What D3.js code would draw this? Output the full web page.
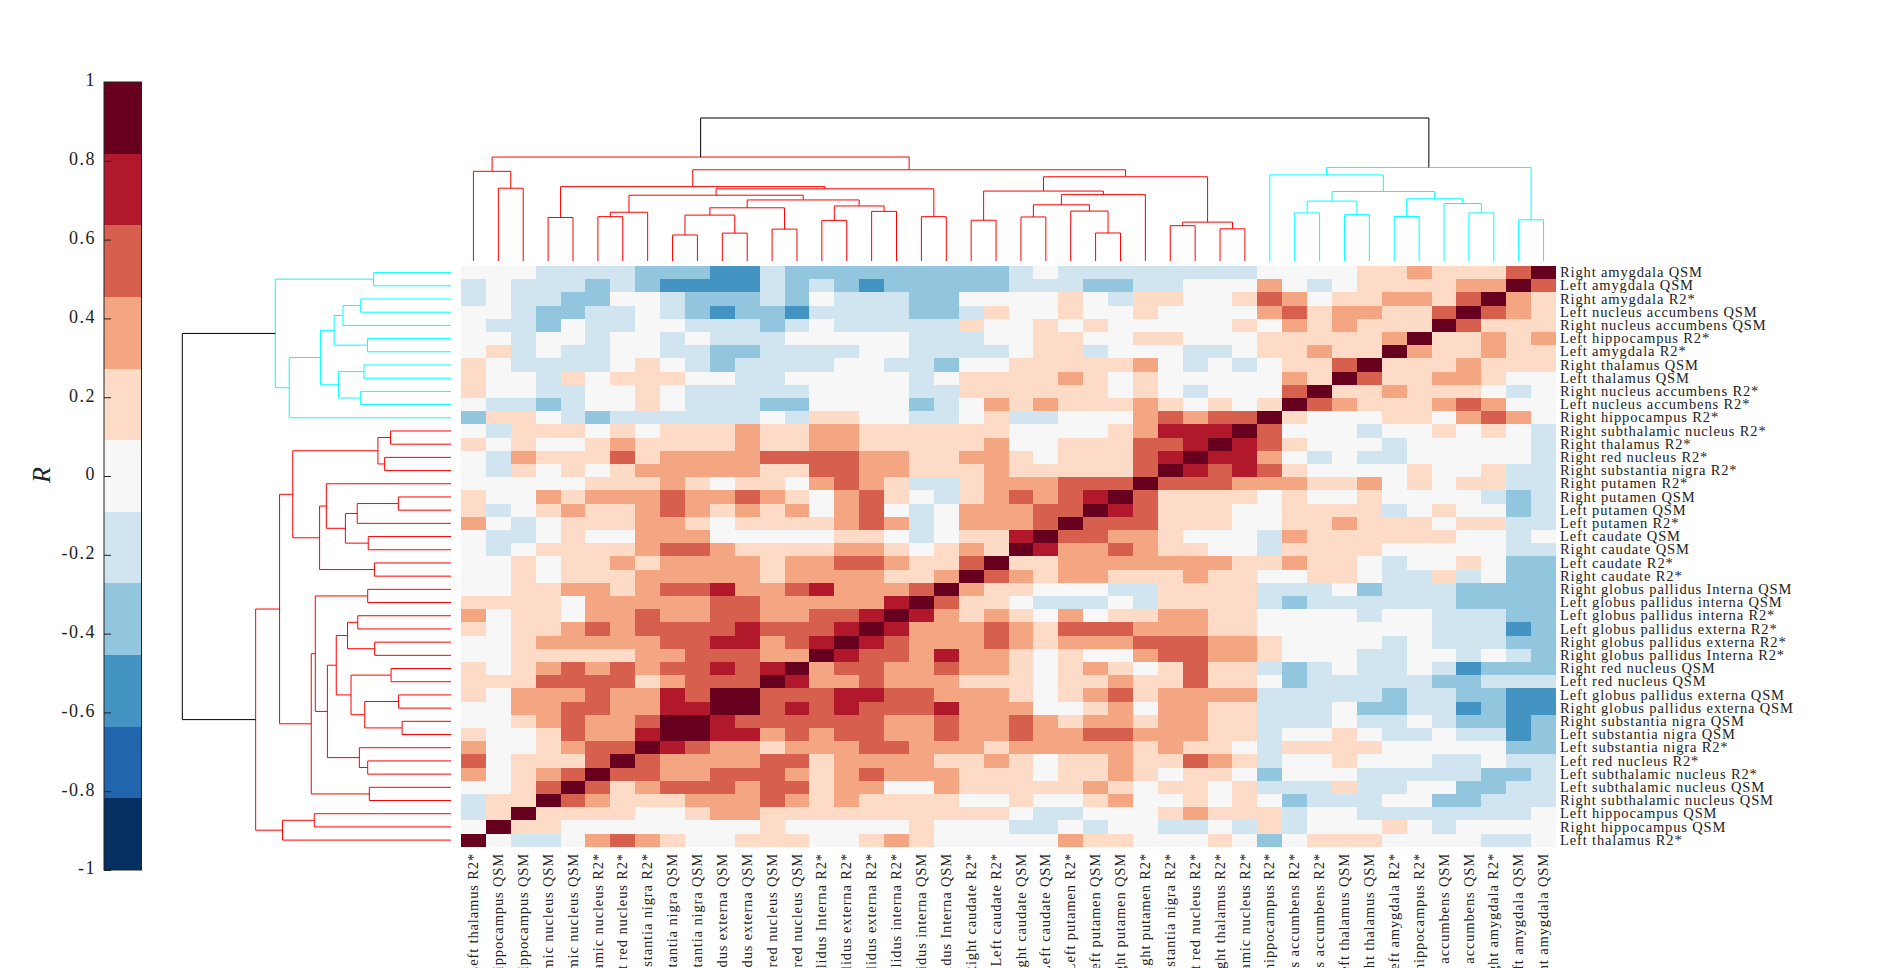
<!DOCTYPE html>
<html>
<head>
<meta charset="utf-8">
<script src="https://cdn.jsdelivr.net/npm/d3@7"></script>
<style>
html,body{margin:0;padding:0;background:#fff;overflow:hidden;}
text{font-family:"Liberation Serif",serif;fill:#222;}
</style>
</head>
<body>
<div id="graph"></div>
<script>
//labels, top to bottom on the right side
var rowLabels=["Right amygdala QSM","Left amygdala QSM","Right amygdala R2*","Left nucleus accumbens QSM","Right nucleus accumbens QSM","Left hippocampus R2*","Left amygdala R2*","Right thalamus QSM","Left thalamus QSM","Right nucleus accumbens R2*","Left nucleus accumbens R2*","Right hippocampus R2*","Right subthalamic nucleus R2*","Right thalamus R2*","Right red nucleus R2*","Right substantia nigra R2*","Right putamen R2*","Right putamen QSM","Left putamen QSM","Left putamen R2*","Left caudate QSM","Right caudate QSM","Left caudate R2*","Right caudate R2*","Right globus pallidus Interna QSM","Left globus pallidus interna QSM","Left globus pallidus interna R2*","Left globus pallidus externa R2*","Right globus pallidus externa R2*","Right globus pallidus Interna R2*","Right red nucleus QSM","Left red nucleus QSM","Left globus pallidus externa QSM","Right globus pallidus externa QSM","Right substantia nigra QSM","Left substantia nigra QSM","Left substantia nigra R2*","Left red nucleus R2*","Left subthalamic nucleus R2*","Left subthalamic nucleus QSM","Right subthalamic nucleus QSM","Left hippocampus QSM","Right hippocampus QSM","Left thalamus R2*"];
var colLabels=rowLabels.slice().reverse();

//R per cell, one line per row
var rValues=[
[0,0,0,-.18,-.18,-.18,-.18,-.36,-.36,-.36,-.55,-.55,-.18,-.36,-.36,-.36,-.36,-.36,-.36,-.36,-.36,-.36,-.18,0,-.18,-.18,-.18,-.18,-.18,-.18,-.18,-.18,0,0,0,0,.18,.18,.36,.18,.18,.18,.55,1],
[-.18,0,-.18,-.18,-.18,-.36,-.18,-.36,-.55,-.55,-.55,-.55,-.18,-.36,-.18,-.36,-.55,-.36,-.36,-.36,-.36,-.36,-.18,-.18,-.18,-.36,-.36,-.18,-.18,0,0,0,.36,0,-.18,0,.18,.18,.18,.18,.36,.36,1,.55],
[-.18,0,-.18,-.18,-.36,-.36,0,0,-.18,-.36,-.36,-.36,-.18,-.36,0,-.18,-.18,-.18,-.36,-.36,0,0,0,0,.18,0,-.18,.18,.18,0,0,.18,.55,.36,0,.18,.18,.36,.36,.18,.55,1,.36,.18],
[0,0,-.18,-.36,-.36,-.18,-.18,0,-.18,-.36,-.55,-.36,-.36,-.55,-.18,-.18,-.18,-.18,-.36,-.36,-.18,.18,0,0,.18,0,0,.18,0,0,0,0,.36,.55,.18,.36,.36,.18,.18,.55,1,.55,.36,.18],
[0,-.18,-.18,-.36,0,-.18,-.18,0,0,-.18,-.18,-.18,-.36,-.18,0,-.18,-.18,-.18,-.18,-.18,.18,0,0,.18,0,.18,0,0,0,0,0,.18,0,.36,.18,.36,.18,.18,.18,1,.55,.18,.18,.18],
[0,0,-.18,0,0,-.18,0,0,-.18,0,-.18,-.18,-.18,0,0,0,0,0,-.18,-.18,-.18,0,0,.18,.18,0,0,.18,.18,0,0,0,.18,.18,.18,.18,.18,.36,1,.18,.18,.36,.18,.36],
[0,.18,-.18,0,-.18,-.18,0,0,-.18,-.18,-.36,-.36,-.18,-.18,-.18,-.18,0,0,-.18,-.18,-.18,-.18,0,.18,.18,-.18,0,0,0,-.18,-.18,0,.18,.18,.36,.18,.18,1,.36,.18,.18,.36,.18,.18],
[.18,0,-.18,-.18,-.18,-.18,0,.18,0,-.18,-.36,-.18,-.18,-.18,-.18,0,0,-.18,-.18,-.36,0,0,.18,.18,.18,.18,.18,.36,0,-.18,0,-.18,0,.18,.18,.55,1,.18,.18,.18,.36,.18,.18,.18],
[.18,0,0,-.18,.18,0,.18,.18,.18,0,0,-.18,-.18,0,0,0,0,0,-.18,0,.18,.18,.18,.18,.36,.18,0,.18,0,0,0,0,0,.36,.18,1,.55,.18,.18,.36,.36,.18,0,0],
[.18,0,0,-.18,-.18,0,0,.18,0,-.18,-.18,-.18,-.18,-.18,0,0,0,0,-.18,-.18,.18,.18,.18,.18,.18,.18,0,.18,0,-.18,0,0,0,.55,1,.18,.18,.36,.18,.18,.18,0,-.18,0],
[0,-.18,-.18,-.36,-.18,0,0,.18,0,-.18,-.18,-.18,-.36,-.36,0,0,0,0,-.36,-.18,0,.36,.18,.36,.18,.18,.18,.36,.18,0,.18,0,.18,1,.55,.36,.18,.18,.18,.36,.55,.36,0,0],
[-.36,.18,.18,0,-.18,-.36,-.18,-.18,-.18,-.18,-.18,-.18,0,-.18,.18,.18,0,0,-.18,-.18,0,.18,-.18,-.18,0,0,0,.36,.55,.36,.55,.55,1,.18,0,0,0,.18,.18,0,.36,.55,.36,0],
[0,-.18,.18,.18,.18,0,.18,0,.18,.18,.18,.36,.18,.18,.36,.36,.18,.18,.18,.18,.18,.18,0,0,0,0,.18,.36,.73,.73,.73,1,.55,0,0,0,-.18,0,0,.18,0,.18,0,-.18],
[.18,0,.18,0,0,.18,.36,.18,.18,.18,.18,.36,.18,.18,.36,.36,.18,.18,.18,.18,.18,.36,0,0,.18,.18,.18,.55,.55,.73,1,.73,.55,.18,0,0,0,-.18,0,0,0,0,0,-.18],
[0,-.18,.36,.18,.18,.18,.55,.18,.36,.36,.36,.36,.55,.55,.55,.55,.36,.36,.18,.18,.36,.36,.18,0,.18,.18,.18,.55,.73,1,.73,.73,.36,0,-.18,0,-.18,-.18,0,0,0,0,0,-.18],
[0,-.18,.18,0,.18,0,.18,.36,.36,.36,.36,.36,.18,.18,.55,.55,.36,.36,.18,.18,.18,.36,.18,.18,.18,.18,.18,.55,1,.73,.55,.73,.55,.18,0,0,0,0,.18,0,0,.18,-.18,-.18],
[0,0,0,0,0,.18,.18,.18,.36,.18,0,.18,.18,0,.36,.55,.36,.18,-.18,-.18,.18,.36,.36,.36,.55,.55,.55,1,.55,.55,.55,.36,.36,.36,.18,.18,.36,0,.18,0,.18,.18,-.18,-.18],
[.18,0,0,.36,.18,.36,.36,.36,.55,.36,.36,.55,.36,.18,0,.36,.55,.18,0,-.18,.18,.36,.55,.36,.55,.73,1,.55,.18,.18,.18,.18,0,.18,0,0,.18,0,0,0,0,-.18,-.36,-.18],
[.18,-.18,0,.18,.36,.18,.18,.36,.55,.36,.18,.36,.18,.36,0,.36,.55,0,-.18,0,.36,.36,.36,.55,.55,1,.73,.55,.18,.18,.18,0,0,.18,.18,.18,.18,-.18,0,.18,0,0,-.36,-.18],
[.36,0,-.18,0,.18,.18,.18,.36,.36,.18,0,.18,.18,.18,.18,.36,.55,.36,-.18,0,.36,.36,.36,.55,1,.55,.55,.55,.18,.18,.18,0,0,.18,.18,.36,.18,.18,.18,0,.18,.18,-.18,-.18],
[0,-.18,-.18,0,.18,0,0,.36,.36,.36,0,0,0,0,0,.18,.18,0,-.18,0,.18,.18,.73,1,.55,.55,.36,.36,.18,0,0,0,-.18,.36,.18,.18,.18,.18,.18,.18,0,0,-.18,0],
[0,-.18,0,.18,.18,.18,.18,.36,.55,.55,.36,.18,.18,.18,.18,.36,.36,.18,0,.18,.36,.18,1,.73,.36,.36,.55,.36,.18,.18,0,0,-.18,.18,.18,.18,.18,0,0,0,0,0,-.18,-.18],
[0,0,.18,0,.18,.18,.36,.18,.36,.36,.36,.36,.18,.36,.36,.55,.55,.36,.18,.18,.55,1,.18,.18,.36,.36,.36,.36,.36,.36,.36,.18,.18,.36,.18,.18,0,-.18,0,0,.18,0,-.36,-.36],
[0,0,.18,0,.18,.18,.18,.36,.36,.36,.36,.36,.18,.36,.36,.36,.36,.18,.18,.36,1,.55,.36,.18,.36,.36,.18,.18,.18,.36,.18,.18,0,0,.18,.18,0,-.18,-.18,.18,-.18,0,-.36,-.36],
[0,0,.18,.18,.36,.36,.18,.36,.55,.55,.73,.36,.36,.55,.73,.36,.36,.36,.55,1,.36,.18,.18,0,0,0,-.18,-.18,.18,.18,.18,.18,-.18,-.18,-.18,0,-.36,-.18,-.18,-.18,-.36,-.36,-.36,-.36],
[.18,.18,.18,.18,0,.36,.36,.36,.36,.36,.55,.55,.36,.36,.36,.36,.36,.73,1,.55,.18,.18,0,-.18,-.18,-.18,0,-.18,.18,.18,.18,.18,-.18,-.36,-.18,-.18,-.18,-.18,-.18,-.18,-.36,-.36,-.36,-.36],
[.36,0,.18,.18,0,.36,.36,.55,.36,.36,.55,.55,.36,.36,.55,.55,.73,1,.73,.36,.18,.36,.18,0,.36,0,.18,.18,.36,.36,.18,.18,0,0,0,0,-.18,0,0,-.18,-.18,-.18,-.36,-.36],
[.18,0,.18,.18,.36,.55,.36,.55,.55,.55,.55,.73,.55,.55,.55,.73,1,.73,.36,.36,.36,.55,.36,.18,.55,.55,.55,.36,.36,.36,.18,.18,0,0,0,0,0,0,0,-.18,-.18,-.18,-.55,-.36],
[0,0,.18,.36,.36,.36,.36,.36,.55,.55,.73,.73,.36,.55,.73,1,.73,.55,.36,.36,.36,.55,.36,.18,.36,.36,.36,.55,.55,.55,.36,.36,.18,0,0,0,0,-.18,0,-.18,-.18,-.18,-.36,-.36],
[0,0,.18,.18,.18,.18,.18,.36,.36,.55,.55,.55,.36,.36,1,.73,.55,.55,.36,.73,.36,.36,.18,0,.18,0,0,.36,.55,.55,.36,.36,.18,0,0,0,-.18,-.18,0,0,-.18,0,-.18,-.36],
[.18,0,.18,.36,.55,.36,.55,.36,.55,.55,.73,.55,.73,1,.36,.55,.55,.36,.36,.55,.36,.36,.18,0,.18,.36,.18,0,.18,.55,.18,.18,-.18,-.36,-.18,0,-.18,-.18,0,-.18,-.55,-.36,-.36,-.36],
[.18,.18,.18,.55,.55,.55,.55,.18,.36,.55,.55,.55,1,.73,.36,.36,.55,.36,.36,.36,.18,.18,.18,0,.18,.18,.36,.18,.18,.55,.18,.18,0,-.36,-.18,-.18,-.18,-.18,-.18,-.36,-.36,-.18,-.18,-.18],
[.18,0,.36,.36,.36,.55,.36,.36,.73,.55,1,1,.55,.55,.55,.73,.73,.55,.55,.36,.36,.36,.18,0,.18,.36,.55,.18,.36,.36,.36,.36,-.18,-.18,-.18,-.18,-.18,-.36,-.18,-.18,-.36,-.36,-.55,-.55],
[0,0,.36,.36,.55,.55,.36,.36,.73,.73,1,1,.55,.73,.55,.73,.55,.55,.55,.73,.36,.36,.36,0,0,.18,.36,0,.36,.36,.18,.18,-.18,-.18,-.18,0,-.36,-.36,-.18,-.18,-.55,-.36,-.55,-.55],
[0,0,.18,.36,.55,.36,.36,.55,1,1,.73,.55,.55,.55,.55,.55,.55,.36,.36,.55,.36,.36,.55,.36,.18,.36,.36,.18,.36,.36,.18,.18,-.18,-.18,-.18,0,-.18,-.18,0,-.18,-.36,-.36,-.55,-.36],
[.18,0,0,.18,.55,.36,.36,.73,1,1,.73,.73,.36,.55,.36,.55,.55,.36,.36,.55,.36,.36,.55,.36,.36,.55,.55,.36,.36,.36,.18,.18,-.18,0,0,.18,0,-.18,-.18,0,-.18,-.18,-.55,-.36],
[.36,0,0,.18,.36,.55,.55,1,.73,.55,.36,.36,.18,.36,.36,.36,.55,.55,.36,.36,.36,.18,.36,.36,.36,.36,.36,.18,.36,.18,.18,0,-.18,.18,.18,.18,.18,0,0,0,0,0,-.36,-.36],
[.55,0,.18,.18,.18,.55,1,.55,.36,.36,.36,.36,.55,.55,.18,.36,.36,.36,.36,.18,.18,.36,.18,0,.18,.18,.36,.18,.18,.55,.36,.18,-.18,0,0,.18,0,0,0,-.18,-.18,0,-.18,-.18],
[.36,0,.18,.36,.55,1,.55,.55,.36,.36,.55,.55,.55,.36,.18,.36,.55,.36,.36,.36,.18,.18,.18,0,.18,.18,.36,.18,0,.18,.18,0,-.36,0,0,0,-.18,-.18,-.18,-.18,-.18,-.36,-.36,-.18],
[0,0,.18,.55,1,.55,.18,.36,.55,.55,.55,.36,.55,.55,.18,.36,.36,0,0,.36,.18,.18,.18,.18,.18,.36,.18,0,.18,.18,0,.18,-.18,-.18,-.18,.18,-.18,-.18,0,0,-.36,-.36,-.18,-.18],
[-.18,.18,.18,1,.55,.36,.18,.18,.18,.36,.36,.36,.55,.36,.18,.36,.18,.18,.18,.18,0,0,.18,0,0,.18,.36,0,0,.18,0,.18,0,-.36,-.18,-.18,-.18,0,0,-.36,-.36,-.18,-.18,-.18],
[-.18,.18,1,.18,.18,.18,.18,0,0,.18,.36,.36,.18,.18,.18,.18,.18,.18,.18,.18,.18,.18,0,-.18,-.18,0,0,0,.18,.36,.18,.18,.18,-.18,0,0,-.18,-.18,-.18,-.18,-.18,-.18,-.18,0],
[0,1,.18,.18,0,0,0,0,0,0,0,0,.18,0,0,0,0,0,.18,0,0,0,-.18,-.18,0,-.18,0,0,-.18,-.18,0,-.18,.18,-.18,0,0,0,.18,0,-.18,0,0,0,0],
[1,0,-.18,-.18,0,.36,.55,.36,.18,0,0,.18,.18,.18,0,0,.18,.36,.18,0,0,0,0,0,.36,.18,.18,0,0,0,.18,0,-.36,0,.18,.18,.18,0,0,0,0,-.18,-.18,0]
];

//dendrogram merges as in a linkage table: leaves are columns 0-43, node ids go on from 44
var mergeA=[43,41,45,38,46,36,34,49,48,52,44,31,29,55,26,58,23,59,27,21,62,57,19,17,15,67,13,11,9,71,70,69,6,7,75,66,4,79,65,2,83,82,54];
var mergeB=[42,40,39,37,47,35,33,50,51,32,53,30,28,56,25,24,22,60,61,20,63,64,18,16,14,68,12,10,8,72,73,74,5,76,77,78,3,80,81,1,0,84,85];
var mergeH=[.288,.336,.402,.311,.435,.324,.336,.419,.486,.602,.654,.225,.247,.272,.196,.349,.308,.393,.464,.285,.489,.589,.31,.347,.284,.385,.223,.195,.182,.321,.372,.427,.31,.341,.46,.505,.304,.52,.638,.509,.627,.727,1];

var cbColors=["#053061","#2166ac","#4393c3","#92c5de","#d1e5f0","#f7f7f7","#fddbc7","#f4a582","#d6604d","#b2182b","#67001f"];
var cbTicks=[-1,-0.8,-0.6,-0.4,-0.2,0,0.2,0.4,0.6,0.8,1];

var svg=d3.select("#graph").append("svg")
  .attr("width",1902)
  .attr("height",968)
  .style("display","block");

var color=d3.scaleQuantize().domain([-1,1]).range(cbColors);
var x=d3.scaleBand().domain(colLabels).range([461,1556]);
var y=d3.scaleBand().domain(rowLabels).range([266,846.7]);

//heatmap
var rows=svg.append("g").selectAll("g")
  .data(rValues)
  .enter()
  .append("g")
  .attr("transform",function(d,i){return "translate(0,"+y(rowLabels[i])+")";});
rows.selectAll("rect")
  .data(function(d){return d;})
  .enter()
  .append("rect")
  .attr("x",function(d,i){return x(colLabels[i]);})
  .attr("width",x.bandwidth())
  .attr("height",y.bandwidth())
  .attr("fill",function(d){return color(d);})
  .attr("shape-rendering","crispEdges");

//labels
svg.append("g").selectAll("text")
  .data(rowLabels)
  .enter()
  .append("text")
  .attr("x",1560)
  .attr("y",function(d){return y(d)+y.bandwidth()/2;})
  .attr("dy","0.32em")
  .style("font-size","14.5px")
  .style("letter-spacing","0.86px")
  .text(function(d){return d;});

svg.append("g").selectAll("text")
  .data(colLabels)
  .enter()
  .append("text")
  .attr("transform",function(d){return "translate("+(x(d)+x.bandwidth()/2)+",853) rotate(-90)";})
  .attr("dy","0.32em")
  .attr("text-anchor","end")
  .style("font-size","14.5px")
  .style("letter-spacing","0.86px")
  .text(function(d){return d;});

//dendrograms, same tree on both sides
var topH=d3.scaleLinear().domain([0,1]).range([261,118]);
var leftH=d3.scaleLinear().domain([0,1]).range([451,182.3]);

function nodeInfo(pos){
  var nodes=d3.range(44).map(function(i){return {p:pos(i),h:0,min:i};});
  mergeA.forEach(function(a,i){
    var A=nodes[a],B=nodes[mergeB[i]];
    nodes.push({a:A,b:B,p:(A.p+B.p)/2,h:mergeH[i],min:Math.min(A.min,B.min)});
  });
  return nodes.filter(function(n){return n.a;});
}
function linkColor(n){
  if(n.h==1) return "#000";
  return n.min>=32 ? "#00ffff" : "#ff0000";
}
var colCenter=function(i){return x(colLabels[i])+x.bandwidth()/2;};
var rowCenter=function(i){return y(rowLabels[43-i])+y.bandwidth()/2;};

svg.append("g").selectAll("path")
  .data(nodeInfo(colCenter))
  .enter()
  .append("path")
  .attr("fill","none")
  .attr("stroke",linkColor)
  .attr("stroke-width",1)
  .attr("d",function(n){
    return "M"+n.a.p+","+topH(n.a.h)+"V"+topH(n.h)+"H"+n.b.p+"V"+topH(n.b.h);
  });

svg.append("g").selectAll("path")
  .data(nodeInfo(rowCenter))
  .enter()
  .append("path")
  .attr("fill","none")
  .attr("stroke",linkColor)
  .attr("stroke-width",1)
  .attr("d",function(n){
    return "M"+leftH(n.a.h)+","+n.a.p+"H"+leftH(n.h)+"V"+n.b.p+"H"+leftH(n.b.h);
  });

//colorbar
var cbY=d3.scaleLinear().domain([-1,1]).range([870,82]);
var cb=svg.append("g").attr("transform","translate(104,0)");
cb.selectAll("rect")
  .data(cbColors)
  .enter()
  .append("rect")
  .attr("x",0)
  .attr("width",37.5)
  .attr("y",function(d){return cbY(color.invertExtent(d)[1]);})
  .attr("height",function(d){var e=color.invertExtent(d);return cbY(e[0])-cbY(e[1]);})
  .attr("fill",function(d){return d;})
  .attr("shape-rendering","crispEdges");
cb.append("rect")
  .attr("width",37.5)
  .attr("y",82)
  .attr("height",788)
  .attr("fill","none")
  .attr("stroke","#222")
  .attr("stroke-width",1);
var cbAxis=cb.append("g")
  .call(d3.axisLeft(cbY).tickValues(cbTicks).tickSize(-7).tickPadding(8).tickFormat(function(d){return String(d);}));
cbAxis.select(".domain").remove();
cbAxis.selectAll("line").attr("stroke","#222");
cbAxis.selectAll("text")
  .style("font-family","'Liberation Serif',serif")
  .style("font-size","18px")
  .style("letter-spacing","1.5px")
  .attr("dy","0.22em")
  .attr("fill","#222");

svg.append("text")
  .attr("transform","translate(50,475) rotate(-90)")
  .attr("text-anchor","middle")
  .style("font-size","26px")
  .style("font-style","italic")
  .text("R");
</script>
</body>
</html>
